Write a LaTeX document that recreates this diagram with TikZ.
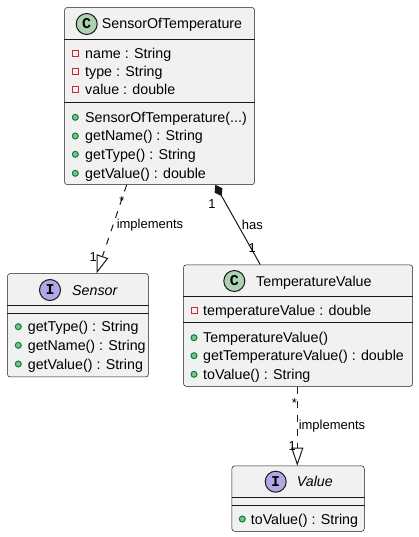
\documentclass[tikz,border=0pt]{standalone}
\usepackage{fontspec}
\setmainfont{Liberation Sans}
\setmonofont{Liberation Mono}
\usetikzlibrary{arrows.meta}

\definecolor{boxfill}{HTML}{F1F1F1}
\definecolor{boxline}{HTML}{181818}
\definecolor{classcirc}{HTML}{ADD1B2}
\definecolor{ifacecirc}{HTML}{B4A7E5}
\definecolor{privred}{HTML}{C82930}
\definecolor{pubfill}{HTML}{84BE84}
\definecolor{publine}{HTML}{038048}

\tikzset{
    umlbox/.style={draw=boxline, line width=0.5pt, fill=boxfill, rounded corners=2.5pt,
        anchor=north west, inner sep=0pt},
    sepline/.style={draw=boxline, line width=0.5pt},
    kindcirc/.style={circle, draw=boxline, line width=1pt, minimum size=21pt, inner sep=0pt,
        font=\fontsize{15}{15}\selectfont\ttfamily\bfseries},
    classtitle/.style={anchor=base west, yshift=-5pt, inner sep=0pt, font=\fontsize{14.25}{16}\selectfont},
    member/.style={anchor=base west, yshift=-5pt, inner sep=0pt, font=\fontsize{14.25}{16}\selectfont},
    privmark/.style={draw=privred, line width=1pt, minimum size=6pt, inner sep=0pt},
    pubmark/.style={circle, draw=publine, fill=pubfill, line width=1pt, minimum size=6pt, inner sep=0pt},
    relation/.style={draw=boxline, line width=1pt},
    realize/.style={relation, dash pattern=on 7pt off 7pt,
        -{Triangle[open, length=18pt, width=12pt]}},
    compose/.style={relation, {Diamond[length=13pt, width=9pt]}-},
    rellabel/.style={inner sep=0pt, font=\fontsize{13}{15}\selectfont},
}

\begin{document}
\begin{tikzpicture}[x=1pt, y=-1pt]
    \useasboundingbox (0,0) rectangle (418,537);

    % SensorOfTemperature
    \node[umlbox, minimum width=190pt, minimum height=177pt] (sot) at (64.3,7.3) {};
    \draw[sepline] ([yshift=-32pt]sot.north west) -- ([yshift=-32pt]sot.north east);
    \draw[sepline] ([yshift=-94.7pt]sot.north west) -- ([yshift=-94.7pt]sot.north east);
    \node[kindcirc, fill=classcirc] (sotkind) at (86.7,24) {C};
    \node[classtitle] (sottitle) at (101.7,24) {SensorOfTemperature};
    \node[privmark] (sota1m) at (75.3,53.3) {};
    \node[member] (sota1) at (85,53.3) {name : String};
    \node[privmark] (sota2m) at (75.3,71.7) {};
    \node[member] (sota2) at (85,71.7) {type : String};
    \node[privmark] (sota3m) at (75.3,90) {};
    \node[member] (sota3) at (85,90) {value : double};
    \node[pubmark] (sotm1m) at (75.3,117.3) {};
    \node[member] (sotm1) at (85,117.3) {SensorOfTemperature(...)};
    \node[pubmark] (sotm2m) at (75.3,136) {};
    \node[member] (sotm2) at (85,136) {getName() : String};
    \node[pubmark] (sotm3m) at (75.3,154.3) {};
    \node[member] (sotm3) at (85,154.3) {getType() : String};
    \node[pubmark] (sotm4m) at (75.3,173.3) {};
    \node[member] (sotm4) at (85,173.3) {getValue() : double};

    % Sensor
    \node[umlbox, minimum width=140.7pt, minimum height=103.4pt] (sensor) at (7.3,273.3) {};
    \draw[sepline] ([yshift=-32.4pt]sensor.north west) -- ([yshift=-32.4pt]sensor.north east);
    \draw[sepline] ([yshift=-40pt]sensor.north west) -- ([yshift=-40pt]sensor.north east);
    \node[kindcirc, fill=ifacecirc] (sensorkind) at (50,290) {I};
    \node[classtitle] (sensortitle) at (72,290) {\itshape Sensor};
    \node[pubmark] (sensorm1m) at (18.3,326.7) {};
    \node[member] (sensorm1) at (27.7,326.7) {getType() : String};
    \node[pubmark] (sensorm2m) at (18.3,345.3) {};
    \node[member] (sensorm2) at (27.7,345.3) {getName() : String};
    \node[pubmark] (sensorm3m) at (18.3,364) {};
    \node[member] (sensorm3) at (27.7,364) {getValue() : String};

    % TemperatureValue
    \node[umlbox, minimum width=229pt, minimum height=121.3pt] (tv) at (183.3,264.7) {};
    \draw[sepline] ([yshift=-31.3pt]tv.north west) -- ([yshift=-31.3pt]tv.north east);
    \draw[sepline] ([yshift=-57.3pt]tv.north west) -- ([yshift=-57.3pt]tv.north east);
    \node[kindcirc, fill=classcirc] (tvkind) at (234.3,281) {C};
    \node[classtitle] (tvtitle) at (256,281) {TemperatureValue};
    \node[privmark] (tva1m) at (194,310) {};
    \node[member] (tva1) at (203,310) {temperatureValue : double};
    \node[pubmark] (tvm1m) at (194,337.7) {};
    \node[member] (tvm1) at (203,337.7) {TemperatureValue()};
    \node[pubmark] (tvm2m) at (194,355.7) {};
    \node[member] (tvm2) at (203,355.7) {getTemperatureValue() : double};
    \node[pubmark] (tvm3m) at (194,374.3) {};
    \node[member] (tvm3) at (203,374.3) {toValue() : String};

    % Value
    \node[umlbox, minimum width=132.3pt, minimum height=65.3pt] (value) at (231.7,465.7) {};
    \draw[sepline] ([yshift=-32pt]value.north west) -- ([yshift=-32pt]value.north east);
    \draw[sepline] ([yshift=-40pt]value.north west) -- ([yshift=-40pt]value.north east);
    \node[kindcirc, fill=ifacecirc] (valuekind) at (275.7,481.7) {I};
    \node[classtitle] (valuetitle) at (296.7,481.7) {\itshape Value};
    \node[pubmark] (valuem1m) at (242.3,519) {};
    \node[member] (valuem1) at (250.7,519) {toValue() : String};

    % relations
    \draw[realize] ([xshift=62.4pt]sot.south west) -- ([xshift=89.4pt]sensor.north west);
    \draw[compose] ([xshift=151pt]sot.south west) -- ([xshift=77pt]tv.north west);
    \draw[realize] ([xshift=114pt]tv.south west) -- ([xshift=65.6pt]value.north west);

    \node[rellabel] (sotmult) at (122,200.7) {*};
    \node[rellabel] (sensormult) at (93.3,257.3) {1};
    \node[rellabel] (impl1) at (150,225.3) {implements};
    \node[rellabel] (hasmult1) at (212,204) {1};
    \node[rellabel] (has) at (252.3,225.3) {has};
    \node[rellabel] (hasmult2) at (252.3,248.3) {1};
    \node[rellabel] (tvmult) at (294.3,402.7) {*};
    \node[rellabel] (valuemult) at (292.3,446) {1};
    \node[rellabel] (impl2) at (332,426) {implements};
\end{tikzpicture}
\end{document}
